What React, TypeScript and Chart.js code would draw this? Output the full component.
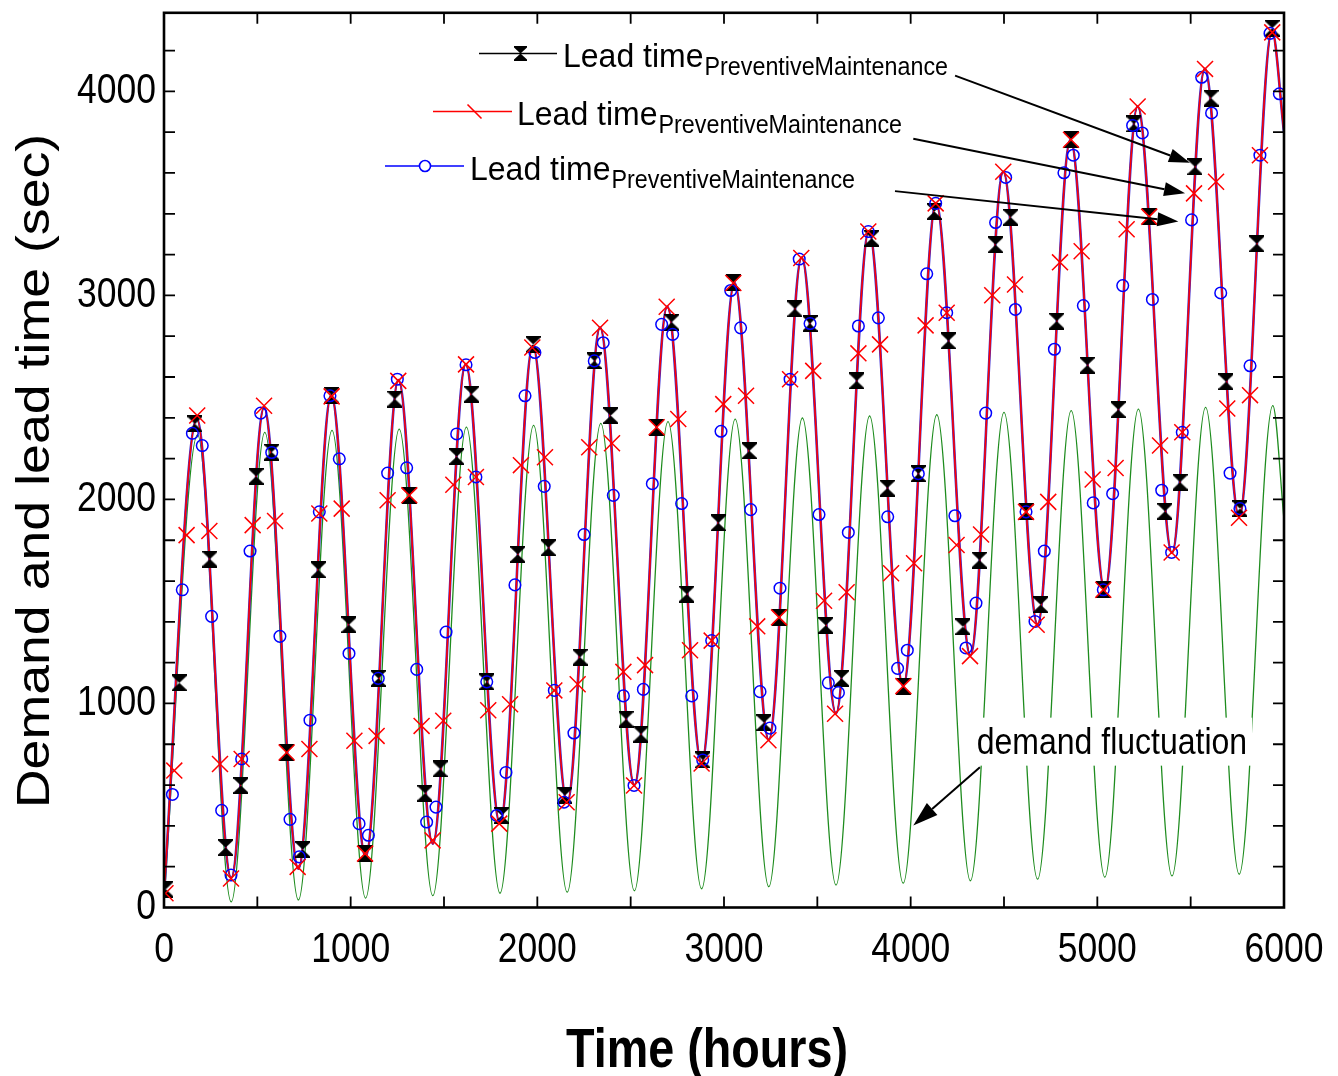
import React, { useEffect, useRef } from "react";
import { Chart, registerables } from "chart.js";

Chart.register(...registerables);

// ---------------- data ----------------
const demandTimes = [0, 180, 360, 540, 720, 900, 1080, 1260, 1440, 1620, 1800, 1980, 2160, 2340, 2520, 2700, 2880, 3060, 3240, 3420, 3600, 3780, 3960, 4140, 4320, 4500, 4680, 4860, 5040, 5220, 5400, 5580, 5760, 5940, 6000];
const demandValues = [25, 2316, 28, 2329, 37, 2338, 46, 2345, 58, 2354, 70, 2363, 75, 2373, 82, 2381, 92, 2394, 102, 2399, 110, 2409, 119, 2415, 131, 2427, 139, 2435, 149, 2443, 155, 2451, 163, 2460, 1900];

const leadTimes = [0, 176, 360, 536, 720, 896, 1080, 1256, 1440, 1616, 1800, 1976, 2160, 2336, 2520, 2696, 2880, 3056, 3240, 3416, 3600, 3776, 3960, 4136, 4320, 4496, 4680, 4856, 5040, 5216, 5400, 5576, 5760, 5936, 6000];
const leadValues = [70, 2395, 145, 2450, 190, 2510, 248, 2585, 313, 2662, 411, 2752, 516, 2842, 600, 2945, 708, 3062, 822, 3185, 952, 3315, 1085, 3452, 1236, 3606, 1387, 3763, 1555, 3926, 1738, 4110, 1915, 4295, 3800];

const blackTimes = [10, 82, 166, 246, 330, 412, 493, 577, 657, 743, 827, 898, 991, 1077, 1148, 1237, 1314, 1398, 1479, 1568, 1648, 1729, 1809, 1895, 1978, 2059, 2148, 2229, 2305, 2393, 2475, 2555, 2639, 2720, 2800, 2886, 2970, 3050, 3136, 3214, 3295, 3380, 3461, 3545, 3630, 3711, 3791, 3875, 3961, 4041, 4127, 4202, 4280, 4368, 4455, 4536, 4618, 4696, 4782, 4859, 4946, 5032, 5112, 5196, 5278, 5362, 5443, 5523, 5609, 5689, 5764, 5854, 5937];
const blackValues = [90, 1101, 2370, 1708, 294, 598, 2113, 2232, 760, 284, 1655, 2511, 1386, 264, 1123, 2492, 2020, 560, 679, 2210, 2516, 1106, 451, 1731, 2760, 1763, 549, 1227, 2679, 2411, 923, 850, 2354, 2869, 1536, 723, 1885, 3061, 2238, 906, 1422, 2934, 2862, 1383, 1123, 2581, 3280, 2056, 1085, 2126, 3411, 2777, 1376, 1703, 3248, 3383, 1939, 1484, 2874, 3763, 2658, 1557, 2440, 3840, 3386, 1942, 2085, 3630, 3967, 2577, 1955, 3253, 4310];

const redTimes = [8, 55, 121, 178, 243, 300, 359, 416, 475, 536, 595, 657, 716, 779, 832, 898, 952, 1020, 1077, 1139, 1198, 1255, 1314, 1380, 1439, 1496, 1550, 1618, 1671, 1737, 1796, 1854, 1912, 1973, 2041, 2091, 2157, 2216, 2278, 2336, 2400, 2461, 2518, 2577, 2639, 2693, 2755, 2818, 2880, 2934, 2996, 3050, 3118, 3178, 3238, 3295, 3354, 3414, 3478, 3536, 3595, 3657, 3720, 3773, 3836, 3895, 3961, 4018, 4080, 4134, 4193, 4246, 4318, 4377, 4437, 4496, 4559, 4618, 4675, 4737, 4800, 4859, 4916, 4975, 5032, 5098, 5157, 5216, 5278, 5336, 5398, 5455, 5518, 5577, 5636, 5696, 5759, 5818, 5871, 5937];
const redValues = [70, 671, 1825, 2411, 1845, 703, 142, 728, 1874, 2459, 1894, 760, 199, 777, 1931, 2505, 1955, 817, 264, 841, 1996, 2581, 2020, 890, 329, 915, 2072, 2662, 2110, 967, 411, 996, 2168, 2745, 2207, 1064, 516, 1094, 2256, 2841, 2275, 1155, 598, 1188, 2354, 2944, 2394, 1261, 706, 1308, 2467, 3061, 2508, 1378, 820, 1422, 2589, 3183, 2630, 1503, 950, 1545, 2716, 3313, 2760, 1638, 1085, 1687, 2853, 3451, 2915, 1777, 1232, 1828, 3001, 3606, 3053, 1939, 1386, 1988, 3162, 3763, 3216, 2098, 1557, 2154, 3324, 3926, 3386, 2264, 1740, 2329, 3500, 4110, 3557, 2446, 1910, 2511, 3687, 4289];

const blueTimes = [45, 98, 152, 205, 255, 309, 359, 416, 461, 518, 577, 621, 675, 725, 782, 832, 889, 939, 991, 1045, 1095, 1148, 1198, 1250, 1300, 1354, 1407, 1457, 1511, 1568, 1618, 1671, 1729, 1782, 1832, 1880, 1934, 1987, 2037, 2091, 2143, 2196, 2250, 2305, 2353, 2407, 2461, 2518, 2568, 2616, 2666, 2725, 2773, 2827, 2886, 2934, 2984, 3036, 3089, 3143, 3193, 3246, 3300, 3354, 3403, 3461, 3509, 3559, 3613, 3666, 3720, 3773, 3827, 3877, 3930, 3982, 4041, 4086, 4134, 4193, 4237, 4296, 4350, 4402, 4455, 4509, 4561, 4618, 4666, 4716, 4770, 4821, 4871, 4925, 4978, 5032, 5082, 5136, 5189, 5241, 5295, 5345, 5398, 5455, 5505, 5559, 5612, 5661, 5711, 5764, 5818, 5871, 5925, 5975];
const blueValues = [554, 1557, 2324, 2264, 1427, 476, 159, 728, 1747, 2423, 2230, 1329, 432, 248, 918, 1939, 2508, 2199, 1245, 411, 354, 1123, 2129, 2589, 2155, 1167, 419, 492, 1350, 2321, 2660, 2110, 1106, 451, 662, 1581, 2508, 2720, 2064, 1064, 516, 855, 1828, 2679, 2768, 2020, 1037, 598, 1069, 2077, 2858, 2809, 1980, 1037, 723, 1308, 2334, 3024, 2841, 1950, 1058, 879, 1565, 2589, 3178, 2862, 1926, 1101, 1053, 1838, 2850, 3313, 2890, 1915, 1172, 1261, 2126, 3106, 3451, 2915, 1920, 1272, 1492, 2423, 3357, 3578, 2931, 1939, 1402, 1747, 2736, 3601, 3687, 2950, 1983, 1557, 2028, 3048, 3833, 3796, 2980, 2045, 1740, 2329, 3370, 4069, 3894, 3012, 2129, 1955, 2655, 3687, 4284, 3988];

const xTickLabels = [0, 1000, 2000, 3000, 4000, 5000, 6000];
const yTickLabels = [0, 1000, 2000, 3000, 4000];

const xTitle = "Time (hours)";
const yTitle = "Demand and lead time (sec)";
const legendMain = "Lead time";
const legendSub = "PreventiveMaintenance";
const demandLabel = "demand fluctuation";

// annotation anchors (data units)
const demandLabelAt = [4354, 754];
const arrowFrom = [[4238, 4077], [4014, 3768], [3916, 3511], [4371, 687]];
const arrowTo = [[5496, 3650], [5470, 3500], [5434, 3362], [4014, 402]];

// ---------------- helpers ----------------
const FONT = '"Liberation Sans", Arial, Helvetica, sans-serif';

function pts(ts: number[], vs: number[]) {
  return ts.map((t, i) => ({ x: t, y: vs[i] }));
}

function makeHourglass(w: number, h: number): HTMLCanvasElement {
  const c = document.createElement("canvas");
  c.width = w;
  c.height = h;
  const g = c.getContext("2d")!;
  g.fillStyle = "#000";
  g.beginPath();
  g.moveTo(0, 0);
  g.lineTo(w, 0);
  g.lineTo(w, 1.5);
  g.lineTo(w / 2, h / 2);
  g.lineTo(0, 1.5);
  g.closePath();
  g.fill();
  g.beginPath();
  g.moveTo(0, h);
  g.lineTo(w, h);
  g.lineTo(w, h - 1.5);
  g.lineTo(w / 2, h / 2);
  g.lineTo(0, h - 1.5);
  g.closePath();
  g.fill();
  return c;
}

function drawText(
  ctx: CanvasRenderingContext2D,
  text: string,
  x: number,
  y: number,
  font: string,
  sx: number,
  sy: number,
  align: CanvasTextAlign,
  rotate = 0
) {
  ctx.save();
  ctx.translate(x, y);
  if (rotate) ctx.rotate(rotate);
  ctx.scale(sx, sy);
  ctx.font = font;
  ctx.textAlign = align;
  ctx.textBaseline = "alphabetic";
  ctx.fillStyle = "#000";
  ctx.fillText(text, 0, 0);
  ctx.restore();
}

function drawArrow(ctx: CanvasRenderingContext2D, x0: number, y0: number, x1: number, y1: number, len: number, half: number) {
  const ang = Math.atan2(y1 - y0, x1 - x0);
  const bx = x1 - len * Math.cos(ang);
  const by = y1 - len * Math.sin(ang);
  ctx.beginPath();
  ctx.moveTo(x0, y0);
  ctx.lineTo(bx, by);
  ctx.stroke();
  ctx.beginPath();
  ctx.moveTo(x1, y1);
  ctx.lineTo(bx + half * Math.sin(ang), by - half * Math.cos(ang));
  ctx.lineTo(bx - half * Math.sin(ang), by + half * Math.cos(ang));
  ctx.closePath();
  ctx.fill();
}

export default function App() {
  const ref = useRef<HTMLCanvasElement>(null);

  useEffect(() => {
    const canvas = ref.current!;
    const hourglass = makeHourglass(15, 17);
    const legendHourglass = makeHourglass(13, 15);

    const overlay = {
      id: "overlay",
      afterDraw(chart: any) {
        const ctx: CanvasRenderingContext2D = chart.ctx;
        const xs = chart.scales.x;
        const ys = chart.scales.y;
        const a = chart.chartArea;
        ctx.save();

        // demand label with white backing
        const dlx = xs.getPixelForValue(demandLabelAt[0]);
        const dly = ys.getPixelForValue(demandLabelAt[1]);
        ctx.font = `32px ${FONT}`;
        const dw = ctx.measureText(demandLabel).width;
        ctx.fillStyle = "#fff";
        ctx.fillRect(dlx - 5, dly - 36, dw + 10, 48);
        drawText(ctx, demandLabel, dlx, dly, `32px ${FONT}`, 1, 1.13, "left");

        // arrows
        ctx.strokeStyle = "#000";
        ctx.fillStyle = "#000";
        ctx.lineWidth = 2;
        arrowFrom.forEach((f, i) => {
          const t = arrowTo[i];
          const big = i === 3;
          drawArrow(
            ctx,
            xs.getPixelForValue(f[0]),
            ys.getPixelForValue(f[1]),
            xs.getPixelForValue(t[0]),
            ys.getPixelForValue(t[1]),
            big ? 25 : 21,
            big ? 8 : 7
          );
        });

        // legend
        const rows = [
          { x0: 479, x1: 557, y: 53.5, mx: 520.5, tx: 563, by: 67, kind: "hourglass", color: "#000" },
          { x0: 433, x1: 512, y: 111.5, mx: 474.5, tx: 517, by: 125, kind: "slash", color: "#ff0000" },
          { x0: 385, x1: 464, y: 166, mx: 425, tx: 470, by: 180, kind: "circle", color: "#0000ff" },
        ];
        for (const r of rows) {
          ctx.strokeStyle = r.color;
          ctx.lineWidth = 1.6;
          ctx.beginPath();
          ctx.moveTo(r.x0, r.y);
          ctx.lineTo(r.x1, r.y);
          ctx.stroke();
          if (r.kind === "hourglass") {
            ctx.drawImage(legendHourglass, r.mx - 6.5, r.y - 7.5);
          } else if (r.kind === "slash") {
            ctx.beginPath();
            ctx.moveTo(r.mx - 7, r.y - 7);
            ctx.lineTo(r.mx + 7, r.y + 7);
            ctx.stroke();
          } else {
            ctx.fillStyle = "#fff";
            ctx.beginPath();
            ctx.arc(r.mx, r.y, 5.5, 0, Math.PI * 2);
            ctx.fill();
            ctx.stroke();
          }
          ctx.font = `32px ${FONT}`;
          const mw = ctx.measureText(legendMain).width;
          drawText(ctx, legendMain, r.tx, r.by, `32px ${FONT}`, 1, 1.04, "left");
          drawText(ctx, legendSub, r.tx + mw + 1, r.by + 8, `23.3px ${FONT}`, 1, 1.1, "left");
        }

        // frame
        ctx.strokeStyle = "#000";
        ctx.lineWidth = 2.6;
        ctx.strokeRect(a.left, a.top, a.right - a.left, a.bottom - a.top);

        // inward tick marks
        ctx.lineWidth = 1.8;
        ctx.beginPath();
        for (let v = 200; v <= 4200; v += 200) {
          const py = ys.getPixelForValue(v);
          ctx.moveTo(a.left, py);
          ctx.lineTo(a.left + 11, py);
          ctx.moveTo(a.right, py);
          ctx.lineTo(a.right - 11, py);
        }
        for (let v = 500; v < 6000; v += 500) {
          const px = xs.getPixelForValue(v);
          ctx.moveTo(px, a.bottom);
          ctx.lineTo(px, a.bottom - 11);
          ctx.moveTo(px, a.top);
          ctx.lineTo(px, a.top + 11);
        }
        ctx.stroke();

        // tick labels
        const tf = `35.5px ${FONT}`;
        for (const v of yTickLabels) {
          drawText(ctx, String(v), a.left - 8, ys.getPixelForValue(v) + 11.5, tf, 1, 1.18, "right");
        }
        for (const v of xTickLabels) {
          drawText(ctx, String(v), xs.getPixelForValue(v), 962, tf, 1, 1.18, "center");
        }

        // axis titles
        drawText(ctx, xTitle, 707, 1067, `bold 46.7px ${FONT}`, 1, 1.2, "center");
        ctx.save();
        ctx.translate(48.5, 471);
        ctx.rotate(-Math.PI / 2);
        ctx.scale(1.18, 1);
        ctx.font = `45.5px ${FONT}`;
        ctx.textAlign = "center";
        ctx.textBaseline = "alphabetic";
        ctx.fillStyle = "#000";
        ctx.fillText(yTitle, 0, 0);
        ctx.restore();

        ctx.restore();
      },
    };

    const chart = new Chart(canvas, {
      type: "line",
      data: {
        datasets: [
          {
            label: "red markers",
            data: pts(redTimes, redValues),
            showLine: false,
            pointStyle: "crossRot",
            pointRadius: 11.3,
            pointBorderWidth: 1.5,
            pointBorderColor: "#ff0000",
            pointBackgroundColor: "rgba(0,0,0,0)",
            borderColor: "#ff0000",
            order: 0,
          },
          {
            label: "blue markers",
            data: pts(blueTimes, blueValues),
            showLine: false,
            pointStyle: "circle",
            pointRadius: 5.8,
            pointBorderWidth: 1.5,
            pointBorderColor: "#0000ff",
            pointBackgroundColor: "rgba(0,0,0,0)",
            borderColor: "#0000ff",
            order: 1,
          },
          {
            label: "black markers",
            data: pts(blackTimes, blackValues),
            showLine: false,
            pointStyle: hourglass as any,
            pointRadius: 8,
            borderColor: "#000",
            order: 2,
          },
          {
            label: "Lead time (red)",
            data: pts(leadTimes, leadValues),
            borderColor: "#ff0000",
            borderWidth: 1.6,
            pointRadius: 0,
            cubicInterpolationMode: "monotone",
            fill: false,
            order: 3,
          },
          {
            label: "Lead time (blue)",
            data: pts(leadTimes, leadValues),
            borderColor: "#3a2bd0",
            borderWidth: 2.6,
            pointRadius: 0,
            cubicInterpolationMode: "monotone",
            fill: false,
            order: 4,
          },
          {
            label: "Lead time (black)",
            data: pts(leadTimes, leadValues),
            borderColor: "#000",
            borderWidth: 1,
            pointRadius: 0,
            cubicInterpolationMode: "monotone",
            fill: false,
            order: 5,
          },
          {
            label: "demand fluctuation",
            data: pts(demandTimes, demandValues),
            borderColor: "#1e8c1e",
            borderWidth: 1.3,
            pointRadius: 0,
            cubicInterpolationMode: "monotone",
            fill: false,
            order: 6,
          },
        ],
      },
      options: {
        responsive: false,
        maintainAspectRatio: false,
        devicePixelRatio: 1,
        animation: false,
        layout: { padding: { left: 164, top: 9, right: 54, bottom: 168.5 } },
        scales: {
          x: { type: "linear", min: 0, max: 6000, display: false },
          y: { type: "linear", min: 0, max: 4385, display: false },
        },
        plugins: {
          legend: { display: false },
          tooltip: { enabled: false },
          title: { display: false },
        },
        events: [],
      },
      plugins: [overlay],
    });

    return () => chart.destroy();
  }, []);

  return (
    <div style={{ position: "absolute", left: 0, top: 0, width: 1338, height: 1076, background: "#fff" }}>
      <canvas ref={ref} width={1338} height={1076} style={{ display: "block", width: 1338, height: 1076 }} />
    </div>
  );
}
